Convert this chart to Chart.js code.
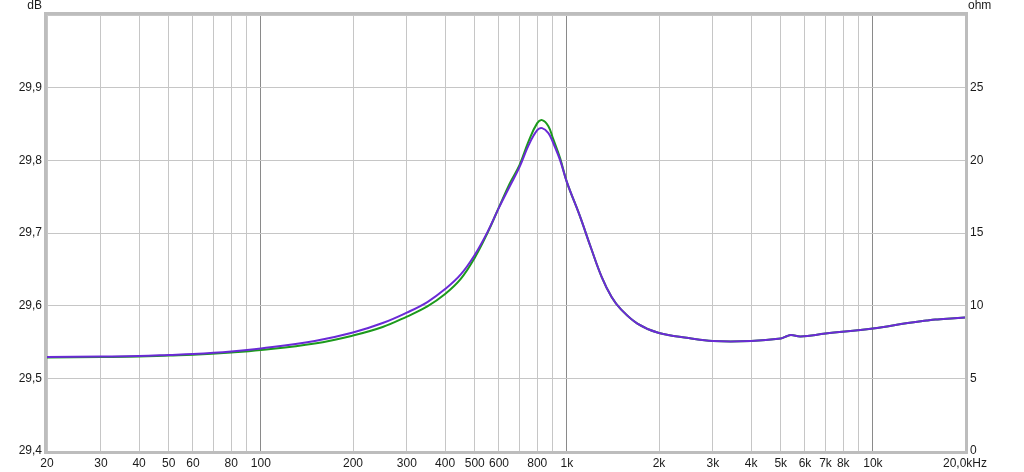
<!DOCTYPE html>
<html>
<head>
<meta charset="utf-8">
<script src="https://cdn.jsdelivr.net/npm/chart.js@4/dist/chart.umd.min.js"></script>
<style>
html,body{margin:0;padding:0;background:#fff;}
#wrap{width:1024px;height:472px;}
</style>
</head>
<body>
<div id="wrap"><canvas id="c" width="1024" height="472"></canvas></div>
<script>
const freqs = [20,30,40,50,60,80,100,150,200,250,300,350,400,450,500,550,600,650,700,750,800,830,870,900,950,1000,1100,1200,1300,1400,1500,1700,2000,2500,3000,4000,5000,5200,5400,5800,7000,10000,13000,15000,16000,17000,18000,20000];
const purpleDb = [29.5293,29.5300,29.5307,29.5321,29.5334,29.5369,29.5410,29.5513,29.5630,29.5761,29.5905,29.6050,29.6228,29.6430,29.6700,29.7012,29.7350,29.7640,29.7906,29.8209,29.8415,29.8443,29.8374,29.8250,29.8003,29.7700,29.7246,29.6790,29.6393,29.6118,29.5953,29.5754,29.5623,29.5554,29.5513,29.5513,29.5547,29.5575,29.5596,29.5575,29.5616,29.5685,29.5761,29.5795,29.5809,29.5816,29.5823,29.5836];
const greenDb = [29.5286,29.5293,29.5300,29.5314,29.5324,29.5355,29.5389,29.5479,29.5589,29.5706,29.5850,29.5990,29.6160,29.6368,29.6660,29.6999,29.7356,29.7680,29.7934,29.8264,29.8512,29.8553,29.8470,29.8305,29.8030,29.7700,29.7246,29.6790,29.6393,29.6118,29.5953,29.5754,29.5623,29.5554,29.5513,29.5513,29.5547,29.5575,29.5596,29.5575,29.5616,29.5685,29.5761,29.5795,29.5809,29.5816,29.5823,29.5836];
const gridFreqs = [20,30,40,50,60,70,80,90,100,200,300,400,500,600,700,800,900,1000,2000,3000,4000,5000,6000,7000,8000,9000,10000,20000];
const xTickValues = [20,30,40,50,60,80,100,200,300,400,500,600,800,1000,2000,3000,4000,5000,6000,7000,8000,10000,20000];
const xTickLabels = ['20','30','40','50','60','80','100','200','300','400','500','600','800','1k','2k','3k','4k','5k','6k','7k','8k','10k','20,0kHz'];
const decadeFreqs = [100,1000,10000];
const leftUnit = 'dB';
const rightUnit = 'ohm';

const toPts = arr => freqs.map((f,i)=>({x:f,y:arr[i]}));

const FONT = {family:'"Liberation Sans", Arial, sans-serif', size:12};

const framePlugin = {
  id:'frame',
  beforeDraw(chart){
    const ctx = chart.ctx;
    ctx.save();
    ctx.fillStyle='#fff';
    ctx.fillRect(0,0,chart.width,chart.height);
    ctx.restore();
  },
  afterDraw(chart){
    const a = chart.chartArea, ctx = chart.ctx;
    ctx.save();
    ctx.strokeStyle='#bdbdbd';
    ctx.lineWidth=3;
    ctx.strokeRect(a.left-1.5,a.top-1.5,a.right-a.left+3,a.bottom-a.top+3);
    ctx.fillStyle='#1a1a1a';
    ctx.font='12px "Liberation Sans", Arial, sans-serif';
    ctx.textBaseline='middle';
    ctx.textAlign='right';
    ctx.fillText(leftUnit,a.left-5,6);
    ctx.textAlign='left';
    ctx.fillText(rightUnit,a.right+3,6);
    ctx.restore();
  }
};

new Chart(document.getElementById('c'),{
  type:'line',
  data:{datasets:[
    {label:'green',data:toPts(greenDb),borderColor:'#1c9a1c',borderWidth:2,pointRadius:0,tension:0.4,yAxisID:'y',order:2},
    {label:'purple',data:toPts(purpleDb),borderColor:'#6a2ad6',borderWidth:2,pointRadius:0,tension:0.4,yAxisID:'y',order:1}
  ]},
  options:{
    responsive:false,
    animation:false,
    devicePixelRatio:1,
    layout:{padding:{top:15,left:0,right:0,bottom:0}},
    plugins:{legend:{display:false},tooltip:{enabled:false}},
    scales:{
      x:{
        type:'logarithmic',min:20,max:20000,
        afterBuildTicks(s){ s.ticks = gridFreqs.map(v=>({value:v})); },
        afterFit(s){ s.height = 21; },
        border:{display:false},
        grid:{drawTicks:false,lineWidth:1,color(ctx){ return decadeFreqs.includes(ctx.tick && ctx.tick.value) ? '#8a8a8a' : '#c6c6c6'; }},
        ticks:{autoSkip:false,maxRotation:0,minRotation:0,padding:5,color:'#1a1a1a',font:FONT,
          callback(v){ const i = xTickValues.indexOf(v); return i>=0 ? xTickLabels[i] : ''; }}
      },
      y:{
        type:'linear',position:'left',min:29.4,max:30.0,
        afterFit(s){ s.width = 47; },
        border:{display:false},
        grid:{drawTicks:false,color:'#c6c6c6',lineWidth:1},
        ticks:{stepSize:0.1,padding:5,color:'#1a1a1a',font:FONT,
          callback(v){ return v>29.95 ? '' : Number(v).toFixed(1).replace('.',','); }}
      },
      y2:{
        type:'linear',position:'right',min:0,max:30,
        afterFit(s){ s.width = 59; },
        border:{display:false},
        grid:{drawOnChartArea:false,drawTicks:false},
        ticks:{stepSize:5,padding:5,color:'#1a1a1a',font:FONT,
          callback(v){ return v>=30 ? '' : String(v); }}
      }
    }
  },
  plugins:[framePlugin]
});
</script>
</body>
</html>
